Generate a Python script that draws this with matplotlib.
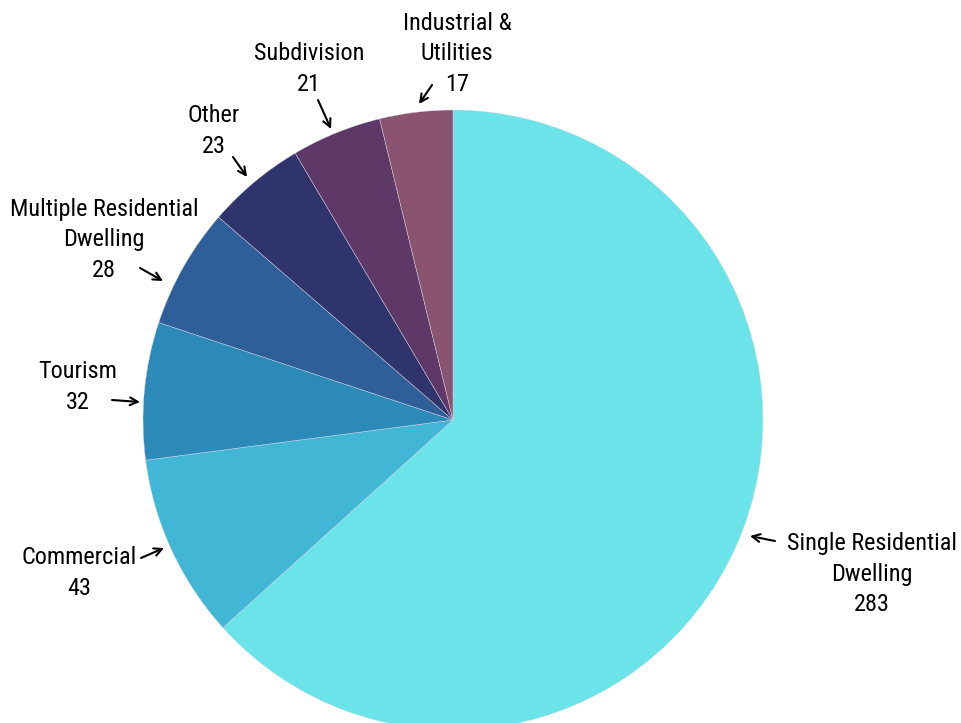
import matplotlib.pyplot as plt

W, H = 962, 723

categories = ['Single Residential\nDwelling', 'Commercial', 'Tourism',
              'Multiple Residential\nDwelling', 'Other', 'Subdivision',
              'Industrial &\nUtilities']
counts = [283, 43, 32, 28, 23, 21, 17]
colors = ['#6AE4E8', '#41B6D5', '#2C8AB8', '#2E5F98', '#30346D', '#5E3866', '#8A5471']

# label layout in pixel coords (text anchor, arrow tail, arrow head)
label_pos = [(872, 574), (79, 573), (78, 387), (104, 240), (214, 131), (309, 69), (457, 54)]
arrow_from = [(775, 541), (141, 558), (112, 400), (140, 268), (233, 157), (318, 100), (432, 85)]
arrow_to = [(750, 536), (164, 548), (140, 402), (163, 281), (247, 177), (331, 129), (419, 104)]


def flip(p):
    return (p[0], H - p[1])


plt.rcParams['font.family'] = ['Roboto Condensed', 'DejaVu Sans']

fig = plt.figure(figsize=(W / 100, H / 100), dpi=100)
ax = fig.add_axes([0, 0, 1, 1])

ax.pie(counts, colors=colors, startangle=90, counterclock=False,
       center=(453, H - 420), radius=310, frame=True,
       wedgeprops=dict(edgecolor='#d8d8e8', linewidth=0.3))
ax.set_xlim(0, W)
ax.set_ylim(0, H)
ax.set_aspect('equal')
ax.axis('off')

for cat, n, lp, a0, a1 in zip(categories, counts, label_pos, arrow_from, arrow_to):
    ax.text(*flip(lp), f'{cat}\n{n}', ha='center', va='center',
            fontsize=17.5, linespacing=1.4, color='black')
    ax.annotate('', xy=flip(a1), xytext=flip(a0),
                arrowprops=dict(arrowstyle='->', color='black', lw=1.5,
                                shrinkA=0, shrinkB=0, mutation_scale=14))

fig.savefig('out.png', dpi=100)
